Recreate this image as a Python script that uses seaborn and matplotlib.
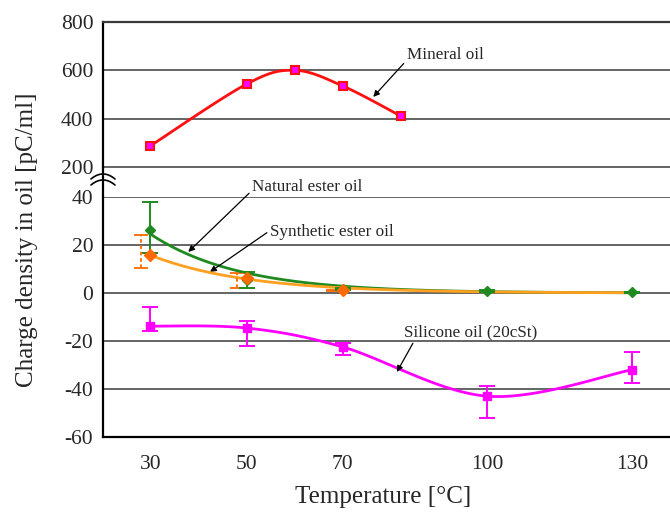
import numpy as np
import matplotlib
matplotlib.use('Agg')
import matplotlib.pyplot as plt
from matplotlib.lines import Line2D
import pandas as pd
import seaborn as sns

# values
mineral_t = [30, 50, 60, 70, 82]
mineral_q = [287, 543, 600, 535, 411]

natural_t = [30, 50, 70, 100, 130]
natural_q = [26.2, 5.4, 1.7, 0.8, 0.4]
natural_lo = [16.7, 2.0, 1.2, 0.5, 0.2]
natural_hi = [37.9, 8.7, 2.2, 1.1, 0.6]
# exponential trend line: q = a * exp(-b * (T - 30))
natural_trend_a, natural_trend_b = 24.6, 0.054

synthetic_t = [30, 50, 70]
synthetic_q = [15.8, 6.2, 1.2]
synthetic_lo = [10.4, 2.0, 1.0]
synthetic_hi = [24.0, 8.3, 1.4]
synthetic_trend_a, synthetic_trend_b = 15.8, 0.05

silicone_t = [30, 50, 70, 100, 130]
silicone_q = [-13.8, -14.6, -22.5, -43.0, -32.0]
silicone_lo = [-16.0, -22.0, -25.8, -52.0, -37.5]
silicone_hi = [-5.8, -11.7, -20.8, -38.8, -24.6]

top_ticks = [200, 400, 600, 800]
bottom_ticks = [-60, -40, -20, 0, 20, 40]
x_ticks = [30, 50, 70, 100, 130]


def smooth(xs, ys, xr, yr, n=30):
    # Catmull-Rom style smoothing (like a spreadsheet "smoothed line")
    p = np.column_stack([np.asarray(xs, float) / xr, np.asarray(ys, float) / yr])
    p = np.vstack([p[0], p, p[-1]])
    out = []
    for i in range(1, len(p) - 2):
        p0, p1, p2, p3 = p[i - 1], p[i], p[i + 1], p[i + 2]
        t = np.linspace(0, 1, n)[:, None]
        seg = 0.5 * ((2 * p1) + (-p0 + p2) * t + (2 * p0 - 5 * p1 + 4 * p2 - p3) * t ** 2
                     + (-p0 + 3 * p1 - 3 * p2 + p3) * t ** 3)
        out.append(seg)
    s = np.vstack(out)
    return pd.DataFrame({'t': s[:, 0] * xr, 'q': s[:, 1] * yr})


def trend(a, b, t0=30, t1=130):
    t = np.linspace(t0, t1, 200)
    return pd.DataFrame({'t': t, 'q': a * np.exp(-b * (t - t0))})


sns.set_style('white')
plt.rcParams['font.family'] = ['Liberation Serif', 'DejaVu Serif']

fig = plt.figure(figsize=(6.7, 5.12), dpi=100)
W, H = 670, 512
ax_top = fig.add_axes([103 / W, 1 - 167 / H, 1 - 103 / W, (167 - 22) / H])
ax_bot = fig.add_axes([103 / W, 1 - 437 / H, 1 - 103 / W, (437 - 197) / H])

xlim = (20.2, 137.9)
grid_c = '#3a3a3a'

for ax in (ax_top, ax_bot):
    ax.set_xlim(*xlim)
    ax.spines['right'].set_visible(False)
    ax.spines['left'].set_color('black')
    ax.spines['left'].set_linewidth(1.6)
    ax.tick_params(axis='y', length=0, pad=7, labelsize=15.5)

# top panel (mineral oil)
ax_top.set_ylim(200, 800)
ax_top.set_yticks(top_ticks)
ax_top.set_xticks([])
ax_top.spines['bottom'].set_visible(False)
ax_top.spines['top'].set_color(grid_c)
ax_top.spines['top'].set_linewidth(1.6)
for v in top_ticks[:-1]:
    ax_top.axhline(v, color=grid_c, lw=1.1, zorder=0, clip_on=False)

d = smooth(mineral_t, mineral_q, 100, 600)
sns.lineplot(data=d, x='t', y='q', ax=ax_top, color='#ff1010', lw=2.0, sort=False)
ax_top.plot(mineral_t, mineral_q, 's', ms=6, mfc='#ff00ff', mec='#ff1010', mew=1.5)
ax_top.set_xlabel('')
ax_top.set_ylabel('')

# bottom panel
ax_bot.set_ylim(-60, 40)
ax_bot.set_yticks(bottom_ticks)
ax_bot.set_yticklabels([str(v) for v in bottom_ticks])
ax_bot.set_xticks(x_ticks)
ax_bot.tick_params(axis='x', direction='in', length=5, width=0.8, pad=13, labelsize=15.5)
ax_bot.spines['top'].set_visible(False)
ax_bot.spines['bottom'].set_color('black')
ax_bot.spines['bottom'].set_linewidth(1.6)
for v in bottom_ticks[1:]:
    ax_bot.axhline(v, color=grid_c, lw=1.1, zorder=0)

green = '#1f8a1f'
orange_line = '#ffa020'
orange_mk = '#ff6a00'
magenta = '#ff00ff'

# natural ester oil trend
sns.lineplot(data=trend(natural_trend_a, natural_trend_b), x='t', y='q', ax=ax_bot,
             color=green, lw=2.0, zorder=3)

# synthetic ester oil (error bars drawn slightly left)
sns.lineplot(data=trend(synthetic_trend_a, synthetic_trend_b), x='t', y='q', ax=ax_bot,
             color=orange_line, lw=2.0, zorder=3.5)
eb = ax_bot.errorbar(np.array(synthetic_t) - 2, synthetic_q,
                     yerr=[np.subtract(synthetic_q, synthetic_lo), np.subtract(synthetic_hi, synthetic_q)],
                     fmt='none', ecolor=orange_mk, elinewidth=1.3, capsize=5, capthick=1.3, zorder=4)
eb[2][0].set_linestyle((0, (2, 1.5)))

ax_bot.errorbar(natural_t, natural_q,
                yerr=[np.subtract(natural_q, natural_lo), np.subtract(natural_hi, natural_q)],
                fmt='D', ms=5.5, color=green, ecolor=green, elinewidth=1.4, capsize=6, capthick=1.4, zorder=5)
ax_bot.plot(synthetic_t, synthetic_q, 'D', ms=6, color=orange_mk, zorder=6)

# silicone oil
d = smooth(silicone_t, silicone_q, 100, 100)
sns.lineplot(data=d, x='t', y='q', ax=ax_bot, color=magenta, lw=2.0, sort=False, zorder=3)
ax_bot.errorbar(silicone_t, silicone_q,
                yerr=[np.subtract(silicone_q, silicone_lo), np.subtract(silicone_hi, silicone_q)],
                fmt='s', ms=6, color=magenta, ecolor=magenta, elinewidth=1.4, capsize=6, capthick=1.4, zorder=4)
ax_bot.set_xlabel('')
ax_bot.set_ylabel('')

# annotations
fs = 12.3
arrow = dict(arrowstyle='-|>', color='black', lw=0.9, mutation_scale=9, shrinkA=0, shrinkB=0)
ax_top.annotate('Mineral oil', xy=(76.3, 490), xytext=(83.3, 663), fontsize=fs, ha='left', va='center',
                arrowprops=dict(arrow, relpos=(0, 0.2)))
ax_bot.annotate('Natural ester oil', xy=(37.9, 17.1), xytext=(51.2, 44.2), fontsize=fs, ha='left',
                va='center', annotation_clip=False, arrowprops=dict(arrow, relpos=(0, 0.3)))
ax_bot.annotate('Synthetic ester oil', xy=(42.4, 8.75), xytext=(54.9, 25.4), fontsize=fs, ha='left',
                va='center', arrowprops=dict(arrow, relpos=(0, 0.6)))
ax_bot.annotate('Silicone oil (20cSt)', xy=(81.2, -32.9), xytext=(82.7, -16.25), fontsize=fs, ha='left',
                va='center', arrowprops=dict(arrow, relpos=(0.08, 0.0)))

# axis break: spine across the gap and break marks
fig.add_artist(Line2D([103 / W, 103 / W], [1 - 167 / H, 1 - 197 / H], color='black', lw=1.6))
u = np.linspace(-1, 1, 30)
for off in (174, 180):
    fig.add_artist(Line2D((103 + 12 * u) / W, 1 - (off + 5 * u ** 2) / H, color='black', lw=1.2))

fig.text(27 / W, 1 - 240 / H, 'Charge density in oil [pC/ml]', rotation=90, ha='center', va='center',
         fontsize=18)
fig.text(383 / W, 1 - 497 / H, 'Temperature [°C]', ha='center', va='center', fontsize=18)

fig.savefig('out.png', dpi=100)
